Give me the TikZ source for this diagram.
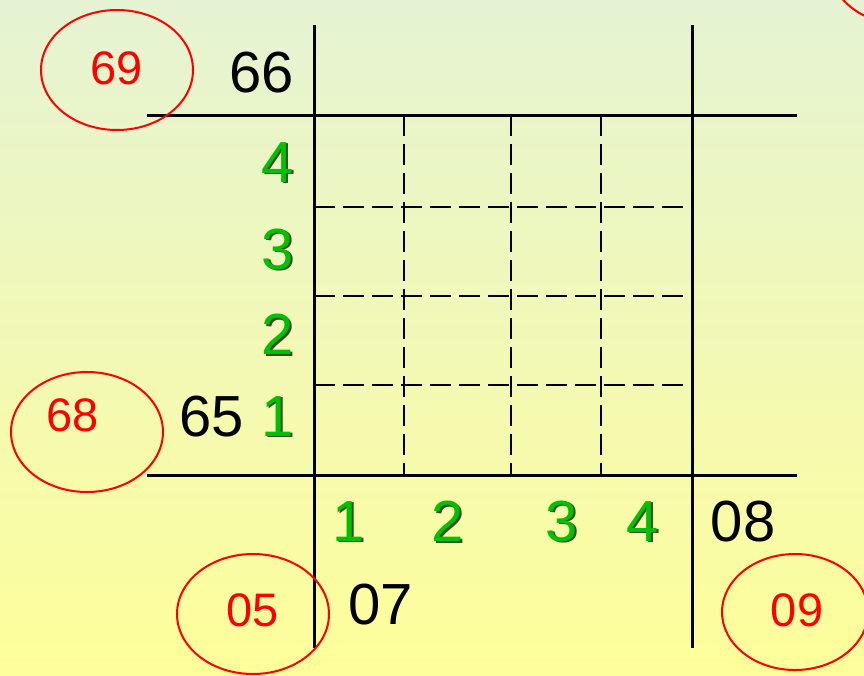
\documentclass[tikz,border=0pt]{standalone}
\usepackage{fontspec}
\setmainfont{Liberation Sans}
\usetikzlibrary{positioning}
\definecolor{BoardGreen}{HTML}{00C000}
\definecolor{BoardShade}{HTML}{3A4A2A}
\definecolor{BoardRed}{HTML}{FF0000}
\definecolor{BoardTop}{HTML}{E5F3D3}
\definecolor{BoardBottom}{HTML}{FEFE9A}
\newcommand{\shadenum}[1]{\rlap{\hspace{1.8pt}\raisebox{-1.8pt}{\textcolor{BoardShade}{#1}}}#1}
\tikzset{
  rule/.style={line width=3pt,draw=black},
  cellline/.style={line width=2.4pt,dash pattern=on 21pt off 8pt},
  bignum/.style={inner sep=0pt,font=\fontsize{58}{60}\selectfont},
  gridnum/.style={bignum,text=BoardGreen},
  ringnum/.style={inner sep=0pt,text=BoardRed,font=\fontsize{47}{50}\selectfont},
  ring/.style={draw=BoardRed,line width=2pt}
}

\begin{document}
\begin{tikzpicture}[x=1pt,y=-1pt]
  \shade[top color=BoardTop,bottom color=BoardBottom] (0,0) rectangle (864,675);
  \useasboundingbox (0,0) rectangle (864,675);
  % cells
  \foreach \x in {404,511,601} {
    \draw[cellline] (\x,115) -- (\x,475);
  }
  \foreach \y in {207,296,385} {
    \draw[cellline] (314,\y) -- (692,\y);
  }
  % frame
  \draw[rule] (314,25) -- (314,648);
  \draw[rule] (692,25) -- (692,648);
  \draw[rule] (147,115) -- (797,115);
  \draw[rule] (147,475) -- (797,475);
  % rings
  \draw[ring] (117,70) ellipse [x radius=76pt,y radius=60pt];
  \draw[ring] (87,432) ellipse [x radius=76pt,y radius=60pt];
  \draw[ring] (253,614) ellipse [x radius=76pt,y radius=60pt];
  \draw[ring] (795,612) ellipse [x radius=73pt,y radius=58pt];
  \draw[ring] (905,-35) ellipse [x radius=76pt,y radius=60pt];
  \node[ringnum] (r69) at (117,68) {69};
  \node[ringnum] (r68) at (73,415) {68};
  \node[ringnum] (r05) at (253,610) {05};
  \node[ringnum] (r09) at (797,610) {09};
  % labels
  \node[bignum] (n66) at (262,73) {66};
  \node[bignum] (n65) at (212,417) {65};
  \node[bignum] (n08) at (743,522) {08};
  \node[bignum] (n07) at (381,605) {07};
  \foreach \name/\x/\y/\t in {l4/278/163/4,l3/278/250/3,l2/278/335/2,l1/278/417/1,
      b1/349/522/1,b2/448/522/2,b3/562/522/3,b4/643/522/4} {
    \node[gridnum] (\name) at (\x,\y) {\shadenum{\t}};
  }
\end{tikzpicture}
\end{document}
